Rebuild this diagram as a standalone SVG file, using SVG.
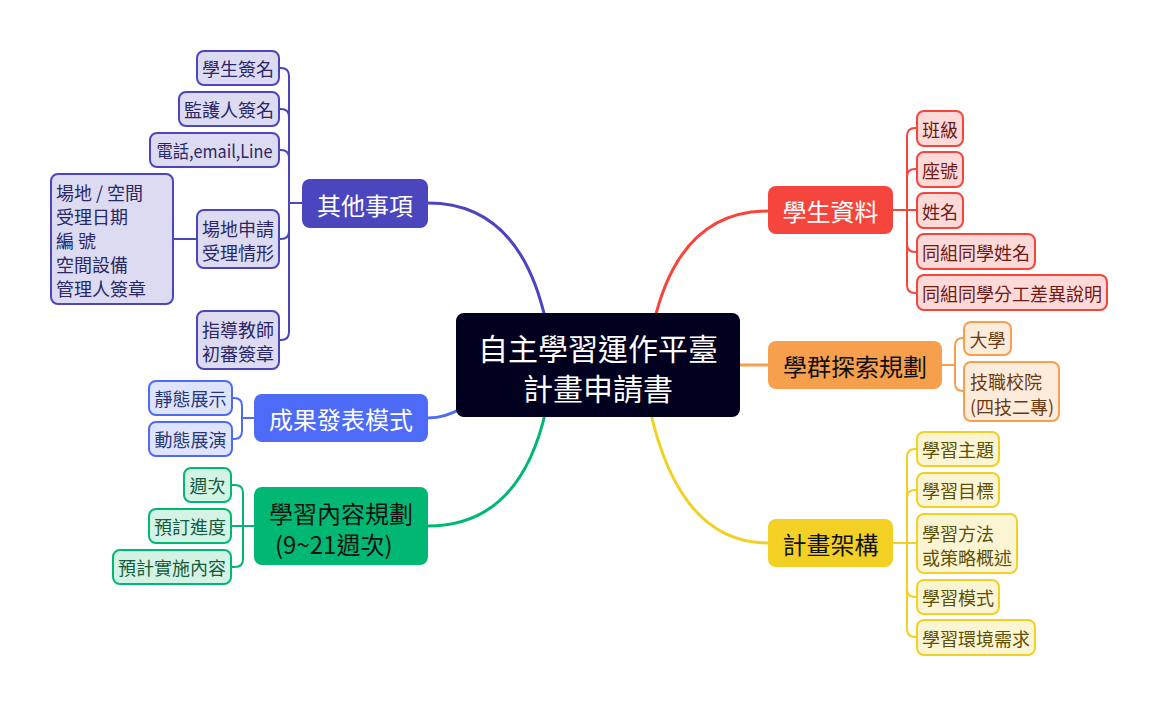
<svg xmlns="http://www.w3.org/2000/svg" width="1158" height="706" viewBox="0 0 1158 706">
<style>
text{font-family:"Noto Sans CJK TC","Noto Sans",sans-serif;dominant-baseline:central}
.leaf{font-size:18px;text-anchor:middle}
.ml{font-size:18px;text-anchor:start}
.br{font-size:24px;text-anchor:middle}
.main{stroke-width:3;fill:none;stroke-linecap:round}
.lc{stroke-width:2;fill:none}
.lr{stroke-width:2}
.p .lr{fill:#DCDBF2;stroke:#4B45BE}.p text{fill:#2A2766}
.b .lr{fill:#DEE4FD;stroke:#4D6BF6}.b text{fill:#26367A}
.g .lr{fill:#D3F3E5;stroke:#00B874}.g text{fill:#145A3C}
.r .lr{fill:#FDD9D8;stroke:#F5453D}.r text{fill:#6E1A17}
.o .lr{fill:#FDEBDB;stroke:#F6A04D}.o text{fill:#6B3A12}
.y .lr{fill:#FCF5D3;stroke:#F2D024}.y text{fill:#5C4F08}
</style>
<rect width="1158" height="706" fill="#ffffff"/>
<g id="connectors">
  <path class="main" stroke="#4B45BE" d="M428,203 Q520,203 546,322"/>
  <path class="main" stroke="#4D6BF6" d="M428,418 Q445,418 462,408"/>
  <path class="main" stroke="#00B874" d="M428,526 Q520,526 546,410"/>
  <path class="main" stroke="#F5453D" d="M768,211 Q680,211 654,322"/>
  <path class="main" stroke="#F6A04D" d="M768,365 H738"/>
  <path class="main" stroke="#F2D024" d="M768,543 Q680,543 650,410"/>
  <g stroke="#4B45BE" class="lc">
    <path d="M302,203 H289"/>
    <path d="M289,203 V76 Q289,68 281,68 H279"/>
    <path d="M289,203 V117 Q289,109 281,109 H279"/>
    <path d="M289,203 V158 Q289,150 281,150 H279"/>
    <path d="M289,203 V231 Q289,239 281,239 H279"/>
    <path d="M289,203 V332 Q289,340 281,340 H279"/>
    <path d="M197,239 H173"/>
  </g>
  <g stroke="#4D6BF6" class="lc">
    <path d="M254,418 H242"/>
    <path d="M242,418 V406 Q242,398 234,398 H232"/>
    <path d="M242,418 V431 Q242,439 234,439 H232"/>
  </g>
  <g stroke="#00B874" class="lc">
    <path d="M254,526 H231"/>
    <path d="M243,526 V493 Q243,485 235,485 H231"/>
    <path d="M243,526 V559 Q243,567 235,567 H231"/>
  </g>
  <g stroke="#F5453D" class="lc">
    <path d="M893,210 H917"/>
    <path d="M907,210 V136 Q907,128 915,128 H917"/>
    <path d="M907,210 V177 Q907,169 915,169 H917"/>
    <path d="M907,210 V244 Q907,252 915,252 H917"/>
    <path d="M907,210 V285 Q907,293 915,293 H917"/>
  </g>
  <g stroke="#F6A04D" class="lc">
    <path d="M942,365 H955"/>
    <path d="M955,365 V346 Q955,338 963,338 H964"/>
    <path d="M955,365 V383 Q955,391 963,391 H964"/>
  </g>
  <g stroke="#F2D024" class="lc">
    <path d="M893,543 H917"/>
    <path d="M907,543 V457 Q907,449 915,449 H917"/>
    <path d="M907,543 V498 Q907,490 915,490 H917"/>
    <path d="M907,543 V589 Q907,597 915,597 H917"/>
    <path d="M907,543 V629 Q907,637 915,637 H917"/>
  </g>
</g>
<g id="central">
  <rect x="456" y="313" width="284" height="104" rx="8" fill="#02001F"/>
  <text x="598" y="347" style="font-size:30px;text-anchor:middle" fill="#ffffff">自主學習運作平臺</text>
  <text x="598" y="387" style="font-size:30px;text-anchor:middle" fill="#ffffff">計畫申請書</text>
</g>
<g id="b-other">
  <rect x="302" y="179" width="126" height="49" rx="8" fill="#4B45BE"/>
  <text class="br" x="365" y="204" fill="#ffffff">其他事項</text>
</g>
<g id="b-result">
  <rect x="254" y="394" width="174" height="48" rx="8" fill="#4D6BF6"/>
  <text class="br" x="341" y="418" fill="#ffffff">成果發表模式</text>
</g>
<g id="b-content">
  <rect x="254" y="487" width="174" height="78" rx="8" fill="#00B874"/>
  <text style="font-size:24px" fill="#111111"><tspan x="341" y="512" text-anchor="middle">學習內容規劃</tspan><tspan x="275" y="543" text-anchor="start">(9~21週次)</tspan></text>
</g>
<g id="b-student">
  <rect x="768" y="186" width="125" height="48" rx="8" fill="#F5453D"/>
  <text class="br" x="830.5" y="210" fill="#ffffff">學生資料</text>
</g>
<g id="b-explore">
  <rect x="768" y="341" width="174" height="48" rx="8" fill="#F6A04D"/>
  <text class="br" x="855" y="365" fill="#111111">學群探索規劃</text>
</g>
<g id="b-plan">
  <rect x="768" y="519" width="125" height="48" rx="8" fill="#F2D024"/>
  <text class="br" x="830.5" y="543" fill="#111111">計畫架構</text>
</g>
<g class="p">
  <g id="l-sign"><rect class="lr" x="197" y="51" width="82" height="34" rx="7"/><text class="leaf" x="238" y="68">學生簽名</text></g>
  <g id="l-guardian"><rect class="lr" x="179" y="92" width="100" height="34" rx="7"/><text class="leaf" x="229" y="109">監護人簽名</text></g>
  <g id="l-phone"><rect class="lr" x="150" y="133" width="129" height="34" rx="7"/><text class="leaf" x="214.5" y="150" textLength="116" lengthAdjust="spacingAndGlyphs">電話,email,Line</text></g>
  <g id="l-venue-detail"><rect class="lr" x="51" y="174" width="122" height="130" rx="7"/>
    <text class="ml" x="56" y="192">場地 / 空間</text>
    <text class="ml" x="56" y="216">受理日期</text>
    <text class="ml" x="56" y="240">編 號</text>
    <text class="ml" x="56" y="264">空間設備</text>
    <text class="ml" x="56" y="288">管理人簽章</text>
  </g>
  <g id="l-venue"><rect class="lr" x="197" y="210" width="82" height="58" rx="7"/>
    <text class="ml" x="202" y="228">場地申請</text>
    <text class="ml" x="202" y="252">受理情形</text>
  </g>
  <g id="l-teacher"><rect class="lr" x="197" y="311" width="82" height="58" rx="7"/>
    <text class="ml" x="202" y="329">指導教師</text>
    <text class="ml" x="202" y="353">初審簽章</text>
  </g>
</g>
<g class="b">
  <g id="l-static"><rect class="lr" x="149" y="381" width="83" height="34" rx="7"/><text class="leaf" x="190.5" y="398">靜態展示</text></g>
  <g id="l-dynamic"><rect class="lr" x="149" y="422" width="83" height="34" rx="7"/><text class="leaf" x="190.5" y="439">動態展演</text></g>
</g>
<g class="g">
  <g id="l-week"><rect class="lr" x="184" y="468" width="47" height="34" rx="7"/><text class="leaf" x="207.5" y="485">週次</text></g>
  <g id="l-progress"><rect class="lr" x="149" y="509" width="82" height="34" rx="7"/><text class="leaf" x="190" y="526">預訂進度</text></g>
  <g id="l-impl"><rect class="lr" x="113" y="550" width="118" height="34" rx="7"/><text class="leaf" x="172" y="567">預計實施內容</text></g>
</g>
<g class="r">
  <g id="l-class"><rect class="lr" x="917" y="111" width="46" height="35" rx="7"/><text class="leaf" x="940" y="128.5">班級</text></g>
  <g id="l-seat"><rect class="lr" x="917" y="152" width="46" height="35" rx="7"/><text class="leaf" x="940" y="169.5">座號</text></g>
  <g id="l-name"><rect class="lr" x="917" y="193" width="46" height="35" rx="7"/><text class="leaf" x="940" y="210.5">姓名</text></g>
  <g id="l-group"><rect class="lr" x="917" y="234" width="118" height="35" rx="7"/><text class="leaf" x="976" y="251.5">同組同學姓名</text></g>
  <g id="l-diff"><rect class="lr" x="917" y="275" width="190" height="35" rx="7"/><text class="leaf" x="1012" y="292.5">同組同學分工差異說明</text></g>
</g>
<g class="o">
  <g id="l-univ"><rect class="lr" x="964" y="322" width="47" height="33" rx="7"/><text class="leaf" x="987.5" y="338.5">大學</text></g>
  <g id="l-tech"><rect class="lr" x="964" y="362" width="95" height="59" rx="7"/>
    <text class="ml" x="970" y="381">技職校院</text>
    <text class="ml" x="970" y="406">(四技二專)</text>
  </g>
</g>
<g class="y">
  <g id="l-topic"><rect class="lr" x="917" y="432" width="82" height="34" rx="7"/><text class="leaf" x="958" y="449">學習主題</text></g>
  <g id="l-goal"><rect class="lr" x="917" y="473" width="82" height="34" rx="7"/><text class="leaf" x="958" y="490">學習目標</text></g>
  <g id="l-method"><rect class="lr" x="917" y="514" width="100" height="59" rx="7"/>
    <text class="ml" x="922" y="533">學習方法</text>
    <text class="ml" x="922" y="557">或策略概述</text>
  </g>
  <g id="l-mode"><rect class="lr" x="917" y="580" width="82" height="34" rx="7"/><text class="leaf" x="958" y="597">學習模式</text></g>
  <g id="l-env"><rect class="lr" x="917" y="620" width="118" height="35" rx="7"/><text class="leaf" x="976" y="637.5">學習環境需求</text></g>
</g>
</svg>
